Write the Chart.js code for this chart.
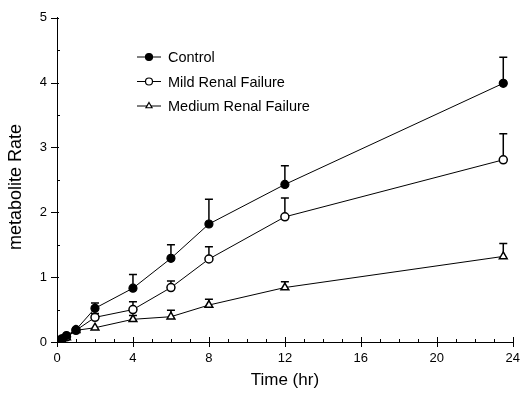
<!DOCTYPE html>
<html>
<head>
<meta charset="utf-8">
<script src="https://cdn.jsdelivr.net/npm/chart.js@4"></script>
<style>
  body { margin: 0; background: #fff; }
  #wrap { width: 529px; height: 398px; }
</style>
</head>
<body>
<div id="wrap"><canvas id="myChart"></canvas></div>
<script>
// time points (hr)
const hours = [0, 0.25, 0.5, 1, 2, 4, 6, 8, 12, 23.5];
const control = [0, 0.05, 0.1, 0.19, 0.52, 0.83, 1.29, 1.82, 2.43, 3.99];
const mild = [0, 0.04, 0.08, 0.18, 0.38, 0.5, 0.84, 1.28, 1.93, 2.81];
const medium = [0, 0.03, 0.07, 0.18, 0.22, 0.35, 0.39, 0.57, 0.84, 1.32];
// upper error (SD)
const controlErr = [0, 0, 0, 0, 0.08, 0.21, 0.21, 0.38, 0.29, 0.4];
const mildErr = [0, 0, 0, 0, 0.06, 0.12, 0.1, 0.19, 0.29, 0.4];
const mediumErr = [0, 0, 0, 0, 0, 0.06, 0.1, 0.09, 0.09, 0.2];
const seriesNames = ["Control", "Mild Renal Failure", "Medium Renal Failure"];
const xTicks = [0, 4, 8, 12, 16, 20, 24];
const yTicks = [0, 1, 2, 3, 4, 5];
const xTitle = "Time (hr)";
const yTitle = "metabolite Rate";

const FONT = "'Liberation Sans', Arial, sans-serif";
Chart.defaults.font.family = FONT;
Chart.defaults.color = "#000";

function pts(ys) {
  return hours.map((h, i) => ({ x: h, y: ys[i] }));
}

const errorBars = {
  id: "errorBars",
  afterDatasetsDraw(chart) {
    const ctx = chart.ctx;
    const xs = chart.scales.x, ys = chart.scales.y;
    ctx.save();
    ctx.strokeStyle = "#000";
    ctx.lineWidth = 1.5;
    chart.data.datasets.forEach(ds => {
      ds.errors.forEach((e, i) => {
        if (!e) return;
        const px = xs.getPixelForValue(hours[i]);
        const y0 = ys.getPixelForValue(ds.data[i].y);
        const y1 = ys.getPixelForValue(ds.data[i].y + e);
        ctx.beginPath();
        ctx.moveTo(px, y0 - 4);
        ctx.lineTo(px, y1);
        ctx.moveTo(px - 4, y1);
        ctx.lineTo(px + 4, y1);
        ctx.stroke();
      });
    });
    ctx.restore();
  }
};

// major ticks cross the axis, minor ticks point inward; plus axis titles
const axisDecor = {
  id: "axisDecor",
  afterDraw(chart) {
    const ctx = chart.ctx;
    const xs = chart.scales.x, ys = chart.scales.y;
    const a = chart.chartArea;
    ctx.save();
    ctx.strokeStyle = "#000";
    ctx.lineWidth = 1;
    ctx.beginPath();
    for (let v = 0; v <= 24; v++) {
      const px = Math.round(xs.getPixelForValue(v)) + 0.5;
      if (v % 4 === 0) {
        ctx.moveTo(px, a.bottom - 5); ctx.lineTo(px, a.bottom + 5);
      } else {
        ctx.moveTo(px, a.bottom); ctx.lineTo(px, a.bottom - 3);
      }
    }
    for (let v = 0; v <= 5; v += 0.5) {
      const py = Math.round(ys.getPixelForValue(v)) + 0.5;
      if (Number.isInteger(v)) {
        ctx.moveTo(a.left - 6, py); ctx.lineTo(a.left + 2, py);
      } else {
        ctx.moveTo(a.left, py); ctx.lineTo(a.left + 3, py);
      }
    }
    ctx.stroke();

    ctx.fillStyle = "#000";
    ctx.textAlign = "center";
    ctx.textBaseline = "middle";
    ctx.font = "17px " + FONT;
    ctx.fillText(xTitle, (a.left + a.right) / 2, 380);
    ctx.translate(16, 187);
    ctx.rotate(-Math.PI / 2);
    ctx.font = "18px " + FONT;
    ctx.fillText(yTitle, 0, 0);
    ctx.restore();
  }
};

const insetLegend = {
  id: "insetLegend",
  afterDraw(chart) {
    const ctx = chart.ctx;
    chart.data.datasets.forEach((ds, i) => {
      const y = 57 + i * 24.5;
      ctx.save();
      ctx.strokeStyle = "#000";
      ctx.lineWidth = 1;
      ctx.beginPath();
      ctx.moveTo(137, y); ctx.lineTo(161, y);
      ctx.stroke();
      ctx.fillStyle = ds.pointBackgroundColor;
      ctx.lineWidth = 1.2;
      Chart.helpers.drawPoint(ctx, {
        pointStyle: ds.pointStyle, radius: 3.5, borderWidth: 1.2
      }, 149, y);
      ctx.font = "14.5px " + FONT;
      ctx.textBaseline = "middle";
      ctx.fillStyle = "#000";
      ctx.fillText(ds.label, 168, y + 1);
      ctx.restore();
    });
  }
};

const ctx = document.getElementById("myChart").getContext("2d");
const myChart = new Chart(ctx, {
  type: "line",
  data: {
    datasets: [
      {
        label: seriesNames[0],
        data: pts(control),
        errors: controlErr,
        borderColor: "#000",
        borderWidth: 1,
        pointStyle: "circle",
        pointRadius: 4,
        pointBackgroundColor: "#000",
        pointBorderColor: "#000",
        pointBorderWidth: 1.2
      },
      {
        label: seriesNames[1],
        data: pts(mild),
        errors: mildErr,
        borderColor: "#000",
        borderWidth: 1,
        pointStyle: "circle",
        pointRadius: 4,
        pointBackgroundColor: "#fff",
        pointBorderColor: "#000",
        pointBorderWidth: 1.5
      },
      {
        label: seriesNames[2],
        data: pts(medium),
        errors: mediumErr,
        borderColor: "#000",
        borderWidth: 1,
        pointStyle: "triangle",
        pointRadius: 4.5,
        pointBackgroundColor: "#fff",
        pointBorderColor: "#000",
        pointBorderWidth: 1.5
      }
    ]
  },
  options: {
    responsive: true,
    maintainAspectRatio: false,
    animation: false,
    layout: { padding: { top: 13, right: 10, left: 0, bottom: 0 } },
    plugins: { legend: { display: false }, tooltip: { enabled: false } },
    scales: {
      x: {
        type: "linear",
        min: 0,
        max: 24,
        afterBuildTicks: s => { s.ticks = xTicks.map(v => ({ value: v })); },
        afterFit: s => { s.height = 56; },
        grid: { display: false, drawTicks: false },
        border: { color: "#000", width: 1 },
        ticks: { font: { size: 13 }, padding: 9, color: "#000" }
      },
      y: {
        min: 0,
        max: 5,
        afterBuildTicks: s => { s.ticks = yTicks.map(v => ({ value: v })); },
        afterFit: s => { s.width = 57; },
        grid: { display: false, drawTicks: false },
        border: { color: "#000", width: 1 },
        ticks: { font: { size: 13 }, padding: 10, color: "#000" }
      }
    }
  },
  plugins: [errorBars, axisDecor, insetLegend]
});
</script>
</body>
</html>
